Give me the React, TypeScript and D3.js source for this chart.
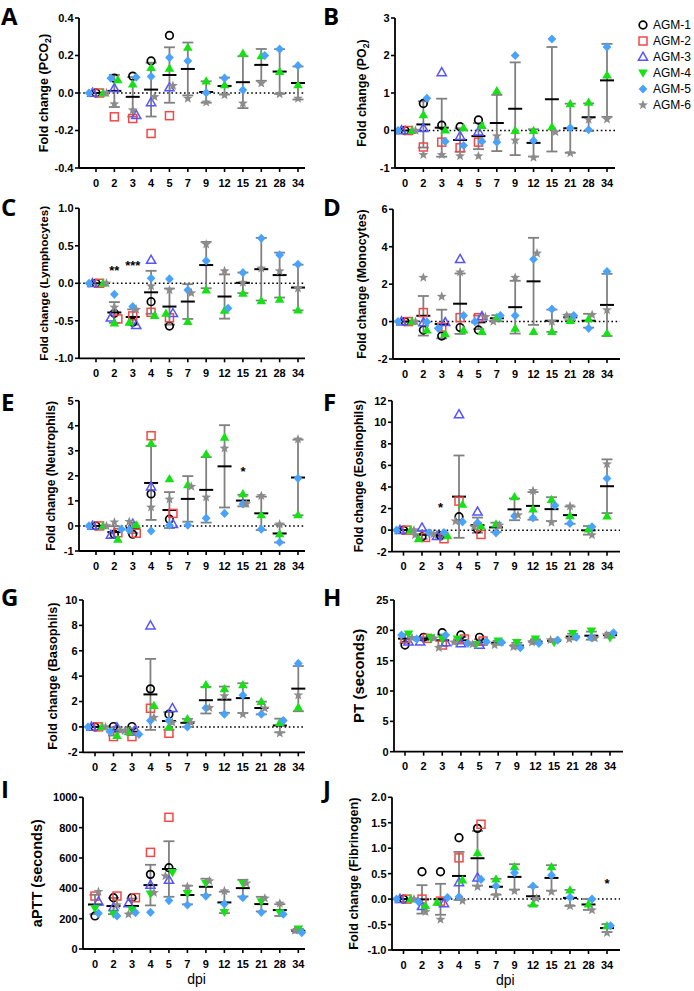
import React from "react";
import * as d3 from "d3";

const DPI = ["0", "2", "3", "4", "5", "7", "9", "12", "15", "21", "28", "34"];
const SERIES = ["AGM-1", "AGM-2", "AGM-3", "AGM-4", "AGM-5", "AGM-6"];
const N = null;

// rows = AGM-1..AGM-6, columns = DPI
const PCO2 = [
  [0, 0.079, 0.09, 0.171, 0.307, N, N, N, N, N, N, N],
  [0, -0.127, -0.136, -0.216, -0.121, N, N, N, N, N, N, N],
  [0, 0.025, -0.118, -0.05, 0.029, N, N, N, N, N, N, N],
  [0, 0.07, 0.048, 0.136, 0.132, 0.243, 0.064, 0.043, 0.212, 0.198, 0.114, 0.043],
  [0, 0.079, 0.084, 0.088, 0.189, 0.171, 0.002, 0.079, 0.016, 0.2, 0.234, 0.146],
  [0, -0.059, -0.091, -0.02, 0.039, -0.029, -0.05, -0.011, -0.055, 0.052, -0.005, -0.029],
];
const PO2 = [
  [0, 0.72, 0.14, 0.1, 0.28, N, N, N, N, N, N, N],
  [0, -0.44, -0.31, -0.46, -0.31, N, N, N, N, N, N, N],
  [0, 0.06, 1.55, -0.15, -0.03, N, N, N, N, N, N, N],
  [0, 0.42, 0.01, 0.07, 0.13, 1.06, 0.0, 0.0, 0.1, 0.71, 0.75, 1.48],
  [0, 0.86, -0.29, -0.4, -0.29, -0.31, 2.0, -0.27, 2.44, 0.07, 0.02, 2.23],
  [0, -0.65, -0.65, -0.68, -0.68, -0.15, -0.26, -0.72, -0.04, -0.6, 0.29, 0.3],
];
const LYMPH = [
  [0, -0.4, -0.52, -0.245, -0.57, N, N, N, N, N, N, N],
  [0, -0.475, -0.435, -0.387, -0.46, N, N, N, N, N, N, N],
  [0, -0.46, -0.56, 0.31, -0.4, N, N, N, N, N, N, N],
  [0, -0.53, -0.52, -0.43, -0.4, -0.51, -0.09, -0.36, -0.133, -0.235, -0.213, -0.356],
  [0, -0.147, -0.31, 0.067, 0.058, -0.09, 0.3, -0.333, 0.142, 0.6, 0.378, 0.253],
  [0, -0.32, -0.35, -0.036, -0.09, -0.13, 0.52, 0.164, 0.01, 0.2, 0.164, -0.067],
];
const MONO = [
  [0, -0.45, -0.77, -0.32, -0.45, N, N, N, N, N, N, N],
  [0, 0.48, -0.3, 0.21, 0.21, N, N, N, N, N, N, N],
  [0, -0.05, -0.04, 3.33, 0.28, N, N, N, N, N, N, N],
  [0, -0.45, -0.66, -0.45, -0.53, 0.21, -0.36, -0.53, -0.53, 0.05, 0.14, -0.62],
  [0, -0.02, -0.36, 0.32, 0.0, 0.32, 0.32, 3.33, 0.66, 0.32, -0.36, 2.67],
  [0, 2.35, 1.34, 2.64, 0.25, 0.0, 2.35, 3.65, 0.0, 0.32, 0.36, 0.62],
];
const NEUT = [
  [0, -0.33, -0.33, 1.28, 0.27, N, N, N, N, N, N, N],
  [0, -0.27, -0.29, 3.6, 0.5, N, N, N, N, N, N, N],
  [0, -0.36, 0.08, 1.57, 0.07, N, N, N, N, N, N, N],
  [0, -0.53, 0.04, 3.3, 1.88, 1.64, 2.87, 3.54, 1.28, 0.44, -0.32, 0.44],
  [0, -0.13, -0.16, -0.2, 0.03, 0.03, 0.31, 0.5, 0.88, -0.13, -0.65, 1.9],
  [0, 0.15, 0.17, 0.745, 1.06, 1.57, 1.14, 3.1, 0.88, 1.2, 0.07, 3.46],
];
const EOS = [
  [0, -0.62, -0.52, 1.24, 0.1, N, N, N, N, N, N, N],
  [0, -0.68, -0.8, 2.69, -0.4, N, N, N, N, N, N, N],
  [0, 0.22, -0.56, 10.72, 1.7, N, N, N, N, N, N, N],
  [0, -0.8, -0.52, 2.38, 0.37, 0.56, 3.09, 1.95, 2.84, 1.33, 0.09, 1.3],
  [0, -0.25, -0.22, 0.77, 0.68, -0.25, 1.3, 1.14, 2.29, 0.62, 0.31, 4.79],
  [0, -0.46, -0.37, 0.83, 0.31, 0.45, 1.39, 3.65, 0.71, 2.22, -0.46, 6.12],
];
const BASO = [
  [0, 0.03, 0.03, 3.0, 1.0, N, N, N, N, N, N, N],
  [0, -0.76, -0.76, 1.47, -0.5, N, N, N, N, N, N, N],
  [0, -0.05, -0.29, 7.98, 1.47, N, N, N, N, N, N, N],
  [0, -0.68, -0.37, 1.68, 0.0, 0.63, 3.31, 3.0, 3.31, 2.0, 0.34, 1.55],
  [0, -0.37, -0.58, 0.5, 0.5, 0.0, 1.5, 1.0, 2.5, 1.0, 0.5, 5.0],
  [0, -0.29, -0.29, 0.74, 0.34, 0.34, 1.5, 2.44, 1.0, 1.47, -0.5, 2.5],
];
const PT = [
  [17.58, 18.85, 19.6, 19.23, 18.85, N, N, N, N, N, N, N],
  [18.68, 18.68, 17.58, 18.57, 18.24, N, N, N, N, N, N, N],
  [18.13, 18.13, 18.02, 17.86, 17.58, N, N, N, N, N, N, N],
  [19.4, 18.79, 18.57, 18.57, 17.69, 18.24, 18.02, 18.57, 18.02, 19.5, 19.89, 18.79],
  [19.23, 18.57, 19.23, 17.86, 18.13, 18.02, 17.14, 17.86, 18.4, 18.85, 18.79, 19.6],
  [18.79, 18.68, 17.14, 18.02, 17.69, 17.58, 17.3, 18.02, 18.4, 18.57, 18.68, 19.23],
];
const APTT = [
  [218, 338, 338, 492, 536, N, N, N, N, N, N, N],
  [349, 349, 338, 637, 868, N, N, N, N, N, N, N],
  [312, 275, 301, 422, 455, N, N, N, N, N, N, N],
  [268, 231, 257, 363, 505, 367, 433, 242, 433, 312, 240, 132],
  [235, 218, 240, 242, 319, 290, 349, 297, 338, 242, 229, 108],
  [378, 290, 229, 371, 481, 411, 448, 382, 433, 334, 301, 121],
];
const FIB = [
  [0, 0.537, 0.537, 1.205, 1.39, N, N, N, N, N, N, N],
  [0, 0.0, -0.04, 0.81, 1.47, N, N, N, N, N, N, N],
  [0, -0.14, -0.085, 0.327, 0.42, N, N, N, N, N, N, N],
  [0, -0.13, -0.065, 0.373, 0.91, 0.393, 0.635, -0.1, 0.635, 0.177, -0.1, -0.524],
  [0, -0.05, 0.03, 0.046, 0.386, 0.255, 0.517, 0.255, 0.47, 0.033, 0.0, -0.524],
  [0, -0.25, -0.4, -0.033, 0.24, 0.08, 0.157, 0.013, 0.144, -0.138, -0.216, -0.66],
];

const TICKS_PCO2 = [-0.4, -0.2, 0, 0.2, 0.4];
const TICKS_PO2 = [-1, 0, 1, 2, 3];
const TICKS_LYMPH = [-1, -0.5, 0, 0.5, 1];
const TICKS_MONO = [-2, 0, 2, 4, 6];
const TICKS_NEUT = [-1, 0, 1, 2, 3, 4, 5];
const TICKS_EOS = [-2, 0, 2, 4, 6, 8, 10, 12];
const TICKS_BASO = [-2, 0, 2, 4, 6, 8, 10];
const TICKS_PT = [0, 5, 10, 15, 20, 25];
const TICKS_APTT = [0, 200, 400, 600, 800, 1000];
const TICKS_FIB = [-1, -0.5, 0, 0.5, 1, 1.5, 2];

const SIG = [
  { panel: "C", dpi: "2", value: 0.18, text: "**" },
  { panel: "C", dpi: "3", value: 0.25, text: "***" },
  { panel: "E", dpi: "15", value: 2.23, text: "*" },
  { panel: "F", dpi: "3", value: 2.22, text: "*" },
  { panel: "J", dpi: "34", value: 0.33, text: "*" },
];

const COLORS = ["#000000", "#f24848", "#5555ff", "#14e214", "#4aa3fb", "#8c8c8c"];

type Cfg = {
  id: string; data: (number | null)[][]; ticks: number[]; dec: number;
  title: string; sub?: string; titleEnd?: string; titleSize: number; titleX: number;
  axisX: number; top: number; bottom: number; cat0: number; cat34: number; xEnd: number;
  zero: boolean; greenDown: boolean; dpi: boolean; lx: number; ly: number;
};

const PANELS: Cfg[] = [
  { id: "A", data: PCO2, ticks: TICKS_PCO2, dec: 1, title: "Fold change (PCO", sub: "2", titleEnd: ")", titleSize: 12.6, titleX: 43, axisX: 79, top: 18, bottom: 168, cat0: 96, cat34: 298, xEnd: 305, zero: true, greenDown: false, dpi: false, lx: 1, ly: 25 },
  { id: "B", data: PO2, ticks: TICKS_PO2, dec: 0, title: "Fold change (PO", sub: "2", titleEnd: ")", titleSize: 12.4, titleX: 362, axisX: 395, top: 18, bottom: 168, cat0: 405, cat34: 607, xEnd: 615, zero: true, greenDown: false, dpi: false, lx: 323, ly: 25 },
  { id: "C", data: LYMPH, ticks: TICKS_LYMPH, dec: 1, title: "Fold change (Lymphocytes)", titleSize: 11.7, titleX: 44, axisX: 79, top: 208.3, bottom: 358.3, cat0: 96, cat34: 298, xEnd: 305, zero: true, greenDown: false, dpi: false, lx: 1, ly: 215.5 },
  { id: "D", data: MONO, ticks: TICKS_MONO, dec: 0, title: "Fold change (Monocytes)", titleSize: 12.4, titleX: 362, axisX: 393, top: 209.3, bottom: 359, cat0: 405, cat34: 607, xEnd: 620, zero: true, greenDown: false, dpi: false, lx: 323, ly: 215.5 },
  { id: "E", data: NEUT, ticks: TICKS_NEUT, dec: 0, title: "Fold change (Neutrophils)", titleSize: 12.1, titleX: 51, axisX: 79, top: 400.7, bottom: 551, cat0: 96, cat34: 298, xEnd: 305, zero: true, greenDown: false, dpi: false, lx: 1, ly: 410.5 },
  { id: "F", data: EOS, ticks: TICKS_EOS, dec: 0, title: "Fold change (Eosinophils)", titleSize: 12.2, titleX: 359, axisX: 392, top: 400.7, bottom: 551.7, cat0: 403.5, cat34: 607, xEnd: 620, zero: true, greenDown: false, dpi: false, lx: 323, ly: 410.5 },
  { id: "G", data: BASO, ticks: TICKS_BASO, dec: 0, title: "Fold change (Basophils)", titleSize: 12.7, titleX: 52, axisX: 83, top: 600, bottom: 752.3, cat0: 95, cat34: 298.3, xEnd: 305, zero: true, greenDown: false, dpi: false, lx: 1, ly: 605.5 },
  { id: "H", data: PT, ticks: TICKS_PT, dec: 0, title: "PT (seconds)", titleSize: 15, titleX: 359, axisX: 394, top: 600, bottom: 751.7, cat0: 405, cat34: 610, xEnd: 623, zero: false, greenDown: true, dpi: false, lx: 323, ly: 605.5 },
  { id: "I", data: APTT, ticks: TICKS_APTT, dec: 0, title: "aPTT (seconds)", titleSize: 14.5, titleX: 37, axisX: 83, top: 797.3, bottom: 949, cat0: 95, cat34: 298.3, xEnd: 305, zero: false, greenDown: true, dpi: true, lx: 1, ly: 798 },
  { id: "J", data: FIB, ticks: TICKS_FIB, dec: 1, title: "Fold change (Fibrinogen)", titleSize: 12.7, titleX: 353, axisX: 392, top: 797.3, bottom: 950, cat0: 403.5, cat34: 607, xEnd: 620, zero: true, greenDown: false, dpi: true, lx: 323, ly: 798 },
];

const FONT = "'Liberation Sans', Arial, sans-serif";

function starPath(R: number, r: number) {
  const pts: [number, number][] = [];
  for (let i = 0; i < 10; i++) {
    const a = -Math.PI / 2 + (i * Math.PI) / 5;
    const rad = i % 2 === 0 ? R : r;
    pts.push([Math.cos(a) * rad, Math.sin(a) * rad]);
  }
  return "M" + pts.map((p) => p.join(",")).join("L") + "Z";
}

function Marker({ s, x, y, down }: { s: number; x: number; y: number; down: boolean }) {
  const c = COLORS[s];
  const t = `translate(${x},${y})`;
  if (s === 0) return <circle cx={x} cy={y} r={3.8} fill="none" stroke={c} strokeWidth={1.7} />;
  if (s === 1) return <rect x={x - 4} y={y - 4} width={8} height={8} fill="none" stroke={c} strokeWidth={1.5} />;
  if (s === 2) return <path transform={t} d="M0,-4.8L4.6,3.3L-4.6,3.3Z" fill="none" stroke={c} strokeWidth={1.5} strokeLinejoin="miter" />;
  if (s === 3) return <path transform={t} d={down ? "M0,4.8L4.8,-3.4L-4.8,-3.4Z" : "M0,-4.8L4.8,3.4L-4.8,3.4Z"} fill={c} />;
  if (s === 4) return <path transform={t} d="M0,-4.6L4.4,0L0,4.6L-4.4,0Z" fill={c} />;
  return <path transform={t} d={starPath(5.2, 2.2)} fill={c} />;
}

function fmt(v: number, dec: number) {
  return d3.format(dec ? ".1f" : "d")(v).replace("\u2212", "-");
}

function placePoints(data: (number | null)[][], ci: number, y: d3.ScaleLinear<number, number>) {
  const placed: { s: number; py: number; off: number }[] = [];
  const cands = [0, 3.5, -3.5, 7, -7, 10.5, -10.5];
  data.forEach((row, s) => {
    const v = row[ci];
    if (v == null) return;
    const py = y(v);
    const off = cands.find((o) => placed.every((p) => Math.abs(p.py - py) >= 6 || Math.abs(p.off - o) >= 3)) ?? 0;
    placed.push({ s, py, off });
  });
  return placed;
}

function PanelView({ c }: { c: Cfg }) {
  const y = d3.scaleLinear().domain([c.ticks[0], c.ticks[c.ticks.length - 1]]).range([c.bottom, c.top]);
  const x = d3.scalePoint<string>().domain(DPI).range([c.cat0, c.cat34]);
  const midY = (c.top + c.bottom) / 2;
  const sigs = SIG.filter((s) => s.panel === c.id);
  return (
    <g>
      <text x={c.lx} y={c.ly} fontFamily="'Open Sans', sans-serif" fontWeight={700} fontSize={24}>{c.id}</text>
      <text transform={`translate(${c.titleX},${midY}) rotate(-90)`} textAnchor="middle" dy="0.36em" fontFamily={FONT} fontWeight={700} fontSize={c.titleSize}>
        {c.title}
        {c.sub && <tspan dy={3} fontSize={c.titleSize * 0.7}>{c.sub}</tspan>}
        {c.titleEnd && <tspan dy={-3}>{c.titleEnd}</tspan>}
      </text>
      {c.zero && (
        <line x1={c.axisX} x2={c.xEnd} y1={y(0)} y2={y(0)} stroke="#000" strokeWidth={1.5} strokeDasharray="1.6,2.6" />
      )}
      {DPI.map((d, ci) => {
        const vals = c.data.map((r) => r[ci]).filter((v): v is number => v != null);
        const m = d3.mean(vals) as number;
        const sd = d3.deviation(vals) ?? 0;
        const cx = x(d) as number;
        return (
          <g key={d}>
            {sd > 0 && (
              <g stroke="#808080" strokeWidth={1.8}>
                <line x1={cx} x2={cx} y1={y(m - sd)} y2={y(m + sd)} />
                <line x1={cx - 5.5} x2={cx + 5.5} y1={y(m - sd)} y2={y(m - sd)} />
                <line x1={cx - 5.5} x2={cx + 5.5} y1={y(m + sd)} y2={y(m + sd)} />
              </g>
            )}
            <line x1={cx - 7} x2={cx + 7} y1={y(m)} y2={y(m)} stroke="#000" strokeWidth={2} />
          </g>
        );
      })}
      {DPI.map((d, ci) =>
        placePoints(c.data, ci, y).map((p) => (
          <Marker key={d + "-" + p.s} s={p.s} x={(x(d) as number) + p.off} y={p.py} down={c.greenDown} />
        ))
      )}
      <line x1={c.axisX} x2={c.axisX} y1={c.top} y2={c.bottom} stroke="#000" strokeWidth={1.8} />
      <line x1={c.axisX} x2={c.xEnd} y1={c.bottom} y2={c.bottom} stroke="#000" strokeWidth={1.8} />
      {c.ticks.map((t) => (
        <g key={t}>
          <line x1={c.axisX - 4} x2={c.axisX} y1={y(t)} y2={y(t)} stroke="#000" strokeWidth={1.6} />
          <text x={c.axisX - 5.5} y={y(t)} dy="0.36em" textAnchor="end" fontFamily={FONT} fontWeight={700} fontSize={11}>{fmt(t, c.dec)}</text>
        </g>
      ))}
      {DPI.map((d) => (
        <g key={d}>
          <line x1={x(d)} x2={x(d)} y1={c.bottom} y2={c.bottom + 4} stroke="#000" strokeWidth={1.6} />
          <text x={x(d)} y={c.bottom + 18.5} textAnchor="middle" fontFamily={FONT} fontWeight={700} fontSize={11}>{d}</text>
        </g>
      ))}
      {c.dpi && (
        <text x={(c.cat0 + c.cat34) / 2} y={c.bottom + 35} textAnchor="middle" fontFamily={FONT} fontSize={14}>dpi</text>
      )}
      {sigs.map((s, i) => (
        <text key={i} x={x(s.dpi)} y={y(s.value) + 5.5} textAnchor="middle" fontFamily={FONT} fontWeight={700} fontSize={13}>{s.text}</text>
      ))}
    </g>
  );
}

function Legend() {
  return (
    <g>
      {SERIES.map((name, i) => {
        const yy = 25 + i * 16;
        return (
          <g key={name}>
            <Marker s={i} x={643} y={yy} down={true} />
            <text x={653} y={yy} dy="0.36em" fontFamily={FONT} fontSize={12}>{name}</text>
          </g>
        );
      })}
    </g>
  );
}

export default function App() {
  return (
    <svg width={694} height={991} style={{ position: "absolute", left: 0, top: 0, background: "#fff" }}>
      <rect width={694} height={991} fill="#fff" />
      {PANELS.map((c) => (
        <PanelView key={c.id} c={c} />
      ))}
      <Legend />
    </svg>
  );
}
